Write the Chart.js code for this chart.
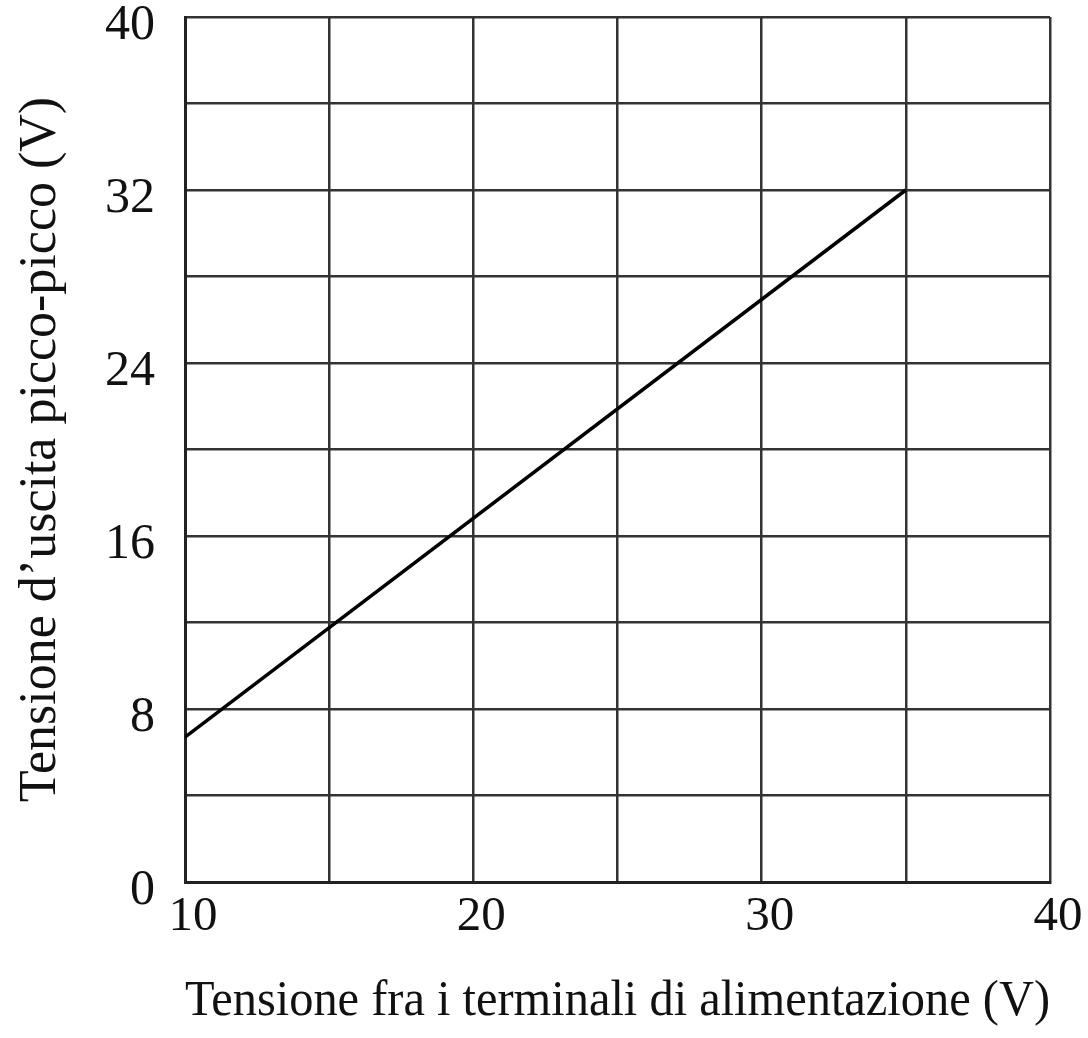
<!DOCTYPE html>
<html>
<head>
<meta charset="utf-8">
<script src="https://cdn.jsdelivr.net/npm/chart.js@4/dist/chart.umd.min.js"></script>
<style>
  html, body { margin: 0; padding: 0; background: #fff; }
  #wrap { width: 1088px; height: 1038px; }
</style>
</head>
<body>
<div id="wrap"><canvas id="grafico"></canvas></div>
<script>
// Tensione di alimentazione (V) e tensione d'uscita picco-picco (V)
const supplyVolts = [10, 35];
const outputVolts = [6.7, 32];

const xTitle = "Tensione fra i terminali di alimentazione (V)";
const yTitle = "Tensione d\u2019uscita picco-picco (V)";

const points = supplyVolts.map((v, i) => ({ x: v, y: outputVolts[i] }));

const gridColor = "#333";
const serif = "'Liberation Serif', 'DejaVu Serif', serif";

new Chart(document.getElementById("grafico"), {
  type: "scatter",
  data: {
    datasets: [
      {
        data: points,
        showLine: true,
        borderColor: "#000",
        borderWidth: 3.5,
        pointRadius: 0,
      },
    ],
  },
  options: {
    responsive: true,
    maintainAspectRatio: false,
    animation: false,
    layout: { padding: { top: 17, right: 38, left: 0, bottom: 0 } },
    plugins: { legend: { display: false }, tooltip: { enabled: false } },
    scales: {
      x: {
        type: "linear",
        min: 10,
        max: 40,
        ticks: {
          stepSize: 5,
          color: "#111",
          font: { family: serif, size: 49 },
          padding: 6,
          labelOffset: 8,
          maxRotation: 0,
          callback: (v) => (v % 10 === 0 ? v : ""),
        },
        grid: { color: gridColor, lineWidth: 2.5, drawTicks: false },
        border: { color: "#222", width: 3 },
        title: {
          display: true,
          text: xTitle,
          color: "#111",
          font: { family: serif, size: 51 },
          padding: { top: 20, bottom: 6 },
        },
        afterFit: (scale) => {
          scale.height = 156;
          scale.paddingLeft = 0;
          scale.paddingRight = 0;
        },
      },
      y: {
        min: 0,
        max: 40,
        ticks: {
          stepSize: 4,
          color: "#111",
          font: { family: serif, size: 50 },
          padding: 30,
          labelOffset: 9,
          callback: (v) => (v % 8 === 0 ? v : ""),
        },
        grid: { color: gridColor, lineWidth: 2.5, drawTicks: false },
        border: { color: "#222", width: 3 },
        title: {
          display: true,
          text: yTitle,
          color: "#111",
          font: { family: serif, size: 52 },
          padding: { top: 10, bottom: 10 },
        },
        afterFit: (scale) => {
          scale.width = 185;
          scale.paddingTop = 0;
          scale.paddingBottom = 0;
        },
      },
    },
  },
});
</script>
</body>
</html>
